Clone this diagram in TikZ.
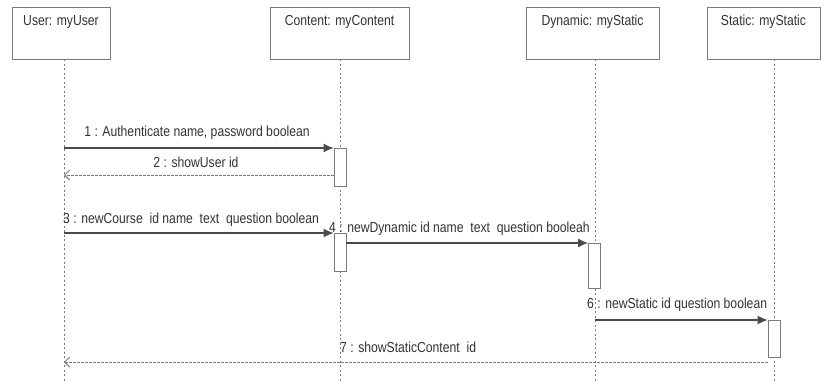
\documentclass[tikz,border=0pt]{standalone}
\usepackage{fontspec}
\setmainfont{Liberation Sans}[FakeStretch=0.84]
\usetikzlibrary{arrows.meta}
\definecolor{linegray}{HTML}{4A4A4A}
\definecolor{boxgray}{HTML}{7A7A7A}
\definecolor{txtgray}{HTML}{333333}
\tikzset{
  objbox/.style={draw=boxgray, line width=0.9pt, fill=white, rectangle, inner sep=0pt},
  objtext/.style={anchor=north, inner sep=0pt, text=txtgray, font=\fontsize{14.5}{16}\selectfont},
  lifeline/.style={draw=boxgray, line width=0.9pt, dash pattern=on 2pt off 2.5pt},
  actbar/.style={draw=boxgray, line width=0.9pt, fill=white, rectangle, inner sep=0pt, minimum width=12pt},
  callmsg/.style={draw=linegray, line width=1.1pt, -{Latex[length=10pt,width=9pt]}},
  retmsg/.style={draw=boxgray, line width=0.9pt, dash pattern=on 2.5pt off 1.5pt, -{Straight Barb[length=5pt,width=10pt]}},
  msgtext/.style={inner sep=0pt, text=txtgray, font=\fontsize{14.5}{16}\selectfont},
}
\begin{document}
\begin{tikzpicture}[x=1pt,y=-1pt]
\useasboundingbox (0,0) rectangle (830,383);
\fill[white] (0,0) rectangle (830,383);
% object boxes
\node[objbox, minimum width=98pt, minimum height=52pt] (user) at (61,33) {};
\node[objbox, minimum width=139pt, minimum height=52pt] (content) at (339.5,33) {};
\node[objbox, minimum width=133pt, minimum height=52pt] (dynamic) at (592.5,33) {};
\node[objbox, minimum width=113pt, minimum height=52pt] (static) at (763.5,33) {};
\node[objtext] (userlbl) at (61,15) {User: myUser};
\node[objtext] (contentlbl) at (339.5,15) {Content: myContent};
\node[objtext] (dynamiclbl) at (592.5,15) {Dynamic: myStatic};
\node[objtext] (staticlbl) at (763.5,15) {Static: myStatic};
% lifelines
\coordinate (uTop) at (64,59);   \coordinate (uBot) at (64,383);
\coordinate (cTop) at (340,59);  \coordinate (cBot) at (340,383);
\coordinate (dTop) at (595,59);  \coordinate (dBot) at (595,383);
\coordinate (sTop) at (774,59);  \coordinate (sBot) at (774,383);
\draw[lifeline] (uTop) -- (uBot);
\draw[lifeline] (cTop) -- (cBot);
\draw[lifeline] (dTop) -- (dBot);
\draw[lifeline] (sTop) -- (sBot);
% message labels
\node[msgtext] (l1) at (197,133) {1 : Authenticate name, password boolean};
\node[msgtext] (l2) at (196,162) {2 : showUser id};
\node[msgtext, anchor=west] (l3) at (63,220) {3 : newCourse\ \ id name\ \ text\ \ question boolean};
\node[msgtext, anchor=west] (l4) at (329,229) {4 : newDynamic id name\ \ text\ \ question booleah};
\node[msgtext, anchor=west] (l6) at (587,305) {6 : newStatic id question boolean};
\node[msgtext, anchor=west] (l7) at (340,347) {7 : showStaticContent\ \ id};
% activation bars
\node[actbar, anchor=north, minimum height=38pt] (a1) at (340,148) {};
\node[actbar, anchor=north, minimum height=38pt] (a2) at (340,233) {};
\node[actbar, anchor=north, minimum height=45pt] (a3) at (594.5,243) {};
\node[actbar, anchor=north, minimum height=37pt] (a4) at (774,320) {};
% message anchor points
\coordinate (m1s) at (64,148);
\coordinate (m2e) at (64,175);
\coordinate (m3s) at (64,233);
\coordinate (m6s) at (595,320);
\coordinate (m7e) at (64,362);
% messages
\draw[callmsg] (m1s) -- (a1.north west);
\draw[retmsg] (a1.west |- m2e) -- (m2e);
\draw[callmsg] (m3s) -- (a2.north west);
\draw[callmsg] (a2.east |- a3.north) -- (a3.north west);
\draw[callmsg] (m6s) -- (a4.north west);
\draw[retmsg] (a4.west |- m7e) -- (m7e);
\end{tikzpicture}
\end{document}
